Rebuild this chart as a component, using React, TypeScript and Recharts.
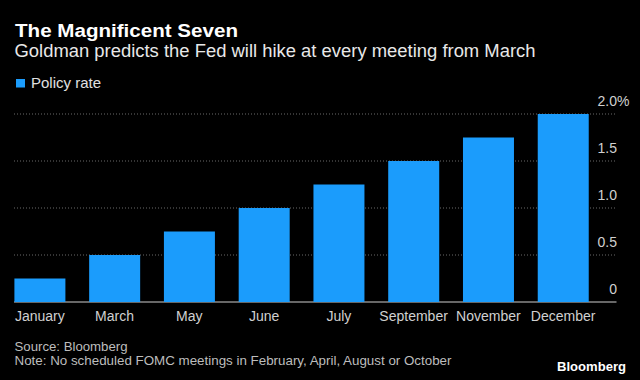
import { Bar, BarChart, CartesianGrid, XAxis, YAxis } from 'recharts'

const months = ['January', 'March', 'May', 'June', 'July', 'September', 'November', 'December']
const policyRate = [0.25, 0.5, 0.75, 1.0, 1.25, 1.5, 1.75, 2.0]
const yTicks = [0, 0.5, 1, 1.5, 2]

const BLUE = '#1b9cfc'
const FONT = "'Liberation Sans', Arial, sans-serif"

const chartData = months.map((month, i) => ({ month, rate: policyRate[i] }))

// grid lines start at the first bar edge and run on under the right-hand labels
function GridLine(props: any) {
  const { x1, x2, y1, y2, index } = props
  if (Math.abs(y1 - 302) < 1) {
    return <line key={`g-${index}`} x1={x1 + 11.6} x2={x2 + 16} y1={y1} y2={y2} stroke='#8a8a8a' strokeWidth={1.5} />
  }
  return (
    <line key={`g-${index}`} x1={x1 + 11.6} x2={x2 + 16} y1={y1} y2={y2} stroke='#6a6a6a' strokeWidth={1} strokeDasharray='1 2' />
  )
}

function RateTick(props: any) {
  const { x, y, payload } = props
  const label = payload.value === 0 ? '0' : payload.value.toFixed(1)
  return (
    <g>
      <text x={x} y={y - 8} textAnchor='end' fill='#d0d0d0' fontSize={14} fontFamily={FONT}>
        {label}
      </text>
      {payload.value === 2 && (
        <text x={x} y={y - 8} textAnchor='start' fill='#d0d0d0' fontSize={14} fontFamily={FONT}>
          %
        </text>
      )}
    </g>
  )
}

export default function App() {
  return (
    <div style={{ position: 'absolute', left: 0, top: 0, width: 640, height: 380, background: '#000', overflow: 'hidden' }}>
      <svg width={640} height={380} style={{ position: 'absolute', left: 0, top: 0 }}>
        <text x={15} y={37} fill='#fff' fontFamily={FONT} fontWeight='bold' fontSize={18} textLength={223} lengthAdjust='spacingAndGlyphs'>
          The Magnificent Seven
        </text>
        <text x={14.5} y={56.7} fill='#e8e8e8' fontFamily={FONT} fontSize={17.5} textLength={521} lengthAdjust='spacingAndGlyphs'>
          Goldman predicts the Fed will hike at every meeting from March
        </text>
        <rect x={16} y={79} width={9} height={8.5} fill={BLUE} />
        <text x={31} y={87.7} fill='#e0e0e0' fontFamily={FONT} fontSize={15} textLength={70} lengthAdjust='spacingAndGlyphs'>
          Policy rate
        </text>
        <text x={14.5} y={350.7} fill='#bdbdbd' fontFamily={FONT} fontSize={13.3} textLength={113} lengthAdjust='spacingAndGlyphs'>
          Source: Bloomberg
        </text>
        <text x={14.5} y={365} fill='#bdbdbd' fontFamily={FONT} fontSize={13.3} textLength={437} lengthAdjust='spacingAndGlyphs'>
          Note: No scheduled FOMC meetings in February, April, August or October
        </text>
        <text x={557} y={371} fill='#fff' fontFamily={FONT} fontWeight='bold' fontSize={13} textLength={69} lengthAdjust='spacingAndGlyphs'>
          Bloomberg
        </text>
      </svg>

      <div style={{ position: 'absolute', left: 0, top: 0 }}>
        <BarChart
          width={640}
          height={380}
          data={chartData}
          margin={{ top: 114, right: 9.5, bottom: 48, left: 2.4 }}
        >
          <CartesianGrid vertical={false} horizontal={GridLine} />
          <XAxis
            dataKey='month'
            axisLine={false}
            tickLine={false}
            height={30}
            tickMargin={3}
            interval={0}
            tick={{ fill: '#d0d0d0', fontSize: 14, fontFamily: FONT }}
          />
          <YAxis
            orientation='right'
            width={30}
            domain={[0, 2]}
            ticks={yTicks}
            axisLine={false}
            tickLine={false}
            tickMargin={10.5}
            tick={RateTick}
          />
          <Bar dataKey='rate' name='Policy rate' fill={BLUE} barSize={51} isAnimationActive={false} />
        </BarChart>
      </div>
    </div>
  )
}
